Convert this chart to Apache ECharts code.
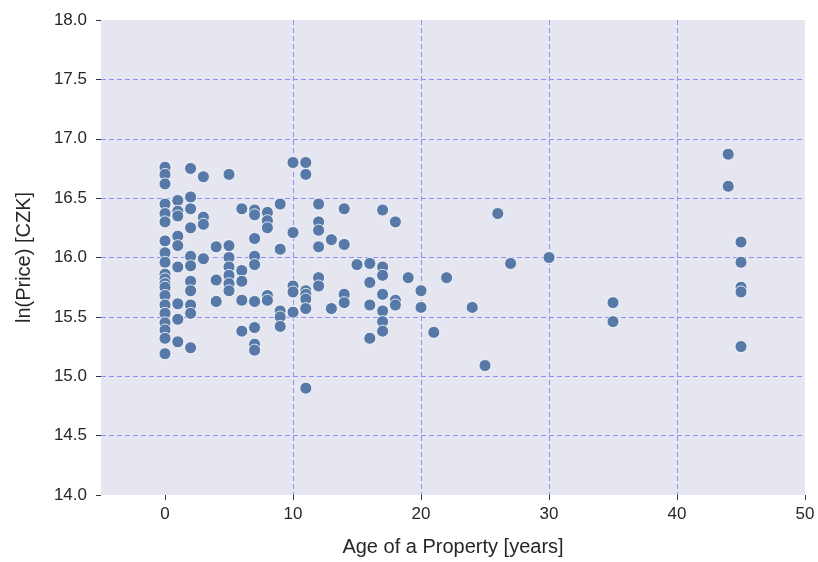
<!DOCTYPE html>
<html>
<head>
<meta charset="utf-8">
<script src="https://cdn.jsdelivr.net/npm/echarts@6/dist/echarts.min.js"></script>
<style>
  html, body { margin: 0; padding: 0; background: #fff; }
  #chart { width: 818px; height: 562px; }
</style>
</head>
<body>
<div id="chart"></div>
<script>
// age of property (years) and ln(price)
const ages = [
  0,0,0,0,0,0,0,0,0,0,0,0,0,0,0,0,0,0,0,0,
  1,1,1,1,1,1,1,1,1,
  2,2,2,2,2,2,2,2,2,2,2,
  3,3,3,3,
  4,4,4,
  5,5,5,5,5,5,5,
  6,6,6,6,6,
  7,7,7,7,7,7,7,7,7,
  8,8,8,8,8,
  9,9,9,9,9,
  10,10,10,10,10,
  11,11,11,11,11,11,11,
  12,12,12,12,12,12,
  13,13,
  14,14,14,14,
  15,
  16,16,16,16,
  17,17,17,17,17,17,17,
  18,18,18,
  19,
  20,20,
  21, 22, 24, 25, 26, 27, 30,
  35,35,
  44,44,
  45,45,45,45,45
];
const lnPrice = [
  16.76,16.70,16.62,16.45,16.37,16.30,16.14,16.04,15.96,15.86,15.82,15.78,15.75,15.68,15.60,15.53,15.45,15.39,15.32,15.19,
  16.48,16.39,16.35,16.18,16.10,15.92,15.61,15.48,15.29,
  16.75,16.51,16.41,16.25,16.01,15.93,15.80,15.72,15.60,15.53,15.24,
  16.68,16.34,16.28,15.99,
  16.09,15.81,15.63,
  16.70,16.10,16.00,15.92,15.85,15.78,15.72,
  16.41,15.89,15.80,15.64,15.38,
  16.40,16.36,16.16,16.01,15.94,15.63,15.41,15.27,15.22,
  16.38,16.31,16.25,15.68,15.64,
  16.45,16.07,15.55,15.50,15.42,
  16.80,16.21,15.76,15.71,15.54,
  16.80,16.70,15.72,15.69,15.65,15.57,14.90,
  16.45,16.30,16.23,16.09,15.83,15.76,
  16.15,15.57,
  16.41,16.11,15.69,15.62,
  15.94,
  15.95,15.79,15.60,15.32,
  16.40,15.92,15.85,15.69,15.55,15.46,15.38,
  16.30,15.64,15.60,
  15.83,
  15.72,15.58,
  15.37, 15.83, 15.58, 15.09, 16.37, 15.95, 16.00,
  15.62,15.46,
  16.87,16.60,
  16.13,15.96,15.75,15.71,15.25
];
const xTicks = [0, 10, 20, 30, 40, 50];

const points = ages.map((a, i) => [a, lnPrice[i]]);

const chart = echarts.init(document.getElementById('chart'));
const textFont = 'Liberation Sans, Arial, sans-serif';
const gridLine = {
  show: true, showMinLine: false, showMaxLine: false,
  lineStyle: { color: '#8f8ffc', type: [5, 3], width: 1 }
};

chart.setOption({
  animation: false,
  grid: {
    left: 101, right: 13, top: 20, bottom: 65,
    show: true, backgroundColor: '#e6e6f0', borderWidth: 0
  },
  xAxis: {
    type: 'value',
    min: -5,
    max: 50,
    name: 'Age of a Property [years]',
    nameLocation: 'middle',
    nameGap: 42,
    nameTextStyle: { fontFamily: textFont, fontSize: 20, color: '#262626' },
    axisLine: { show: false, onZero: false },
    axisTick: { show: true, customValues: xTicks, length: 5, lineStyle: { color: '#333' } },
    axisLabel: { customValues: xTicks, margin: 11, fontFamily: textFont, fontSize: 17, color: '#262626' },
    splitLine: gridLine
  },
  yAxis: {
    type: 'value',
    min: 14,
    max: 18,
    interval: 0.5,
    name: 'ln(Price) [CZK]',
    nameLocation: 'middle',
    nameGap: 67,
    nameTextStyle: { fontFamily: textFont, fontSize: 20, color: '#262626' },
    axisLine: { show: false, onZero: false },
    axisTick: { show: true, length: 5, lineStyle: { color: '#333' } },
    axisLabel: {
      margin: 14, fontFamily: textFont, fontSize: 17, color: '#262626',
      formatter: v => v.toFixed(1)
    },
    splitLine: gridLine
  },
  series: [{
    type: 'scatter',
    data: points,
    symbolSize: 12,
    itemStyle: { color: '#5779a8', borderColor: '#ffffff', borderWidth: 0.8, opacity: 1 }
  }]
});
</script>
</body>
</html>
